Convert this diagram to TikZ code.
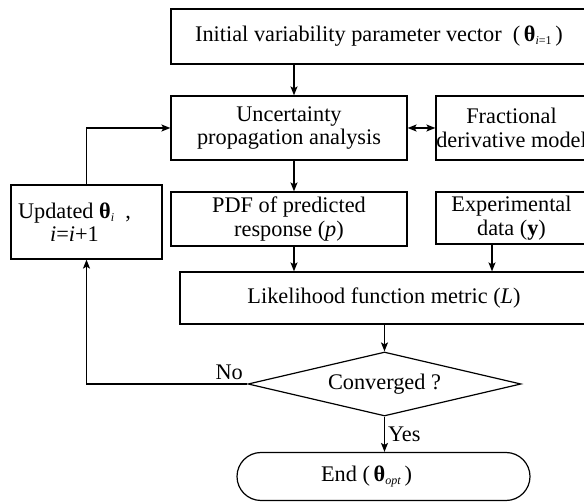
\documentclass[tikz,border=0pt]{standalone}
\usepackage{fontspec}
\setmainfont{Liberation Serif}
\usetikzlibrary{arrows.meta,shapes.geometric}
\tikzset{
  box/.style={draw, line width=1.2pt, align=center, inner sep=0pt},
  arr/.style={-{Stealth[length=9pt,width=7pt,inset=2pt]}, line width=1.2pt},
  dbl/.style={{Stealth[length=9pt,width=7pt,inset=2pt]}-{Stealth[length=9pt,width=7pt,inset=2pt]}, line width=1.2pt},
}
\newcommand{\btheta}{{\bfseries θ}}
\newcommand{\lowsub}[1]{\raisebox{-3pt}{\fontsize{12}{12}\selectfont #1}}
\begin{document}
\begin{tikzpicture}[x=1pt,y=-1pt,font=\fontsize{22.3}{23.5}\selectfont]
      \clip (0,0) rectangle (584,502);
      \node[box, minimum width=416, minimum height=55] (init) at (379,36.5)
        {Initial variability parameter vector\ \ (\,\btheta\lowsub{\textit{i}=1}\,)};
      \node[box, minimum width=236, minimum height=64] (prop) at (289,128) {Uncertainty\\propagation analysis};
      \node[box, minimum width=151, minimum height=64] (frac) at (511.5,128) {Fractional\\derivative model};
      \node[box, minimum width=151, minimum height=74] (upd) at (86.5,222)
        {Updated \btheta\lowsub{\textit{i}}\ \ ,\hspace*{24pt}\\\textit{i}=\textit{i}+1\hspace*{24pt}};
      \node[box, minimum width=236, minimum height=54] (pdf) at (289,219) {PDF of predicted\\response (\textit{p})};
      \node[box, minimum width=151, minimum height=52] (exp) at (511.5,218) {Experimental\\data (\textbf{y})};
      \node[box, minimum width=408, minimum height=52] (like) at (384,298) {Likelihood function metric (\textit{L})};
      \node[diamond, draw, line width=1.2pt, aspect=4.3, inner sep=0pt,
        minimum width=273, minimum height=64] (conv) at (384.5,384) {Converged ?};
      \node[draw, line width=1.2pt, rounded corners=24pt, minimum width=293, minimum height=48] (end) at (383.5,476.5)
        {End (\,\btheta\lowsub{\textit{opt}}\,)\hspace*{34pt}};
      \coordinate (ax) at (294,0);
      \coordinate (bx) at (492,0);
      \begin{scope}[arr]
        \draw (init.south -| ax) to (prop.north -| ax);
        \draw (prop.south -| ax) to (pdf.north -| ax);
        \draw (pdf.south -| ax) to (like.north -| ax);
        \draw (exp.south -| bx) to (like.north -| bx);
        \draw (like.south -| conv.north) to (conv.north);
        \draw (conv.south) -- node[right, inner sep=3pt] {Yes} (end.north -| conv.south);
        \draw (conv.west) node[above left, inner sep=4pt] {No} -| (upd.south);
        \draw (upd.north) |- (prop.west);
      \end{scope}
      \draw[dbl] (prop.east) -- (frac.west);
    \end{tikzpicture}
\end{document}
